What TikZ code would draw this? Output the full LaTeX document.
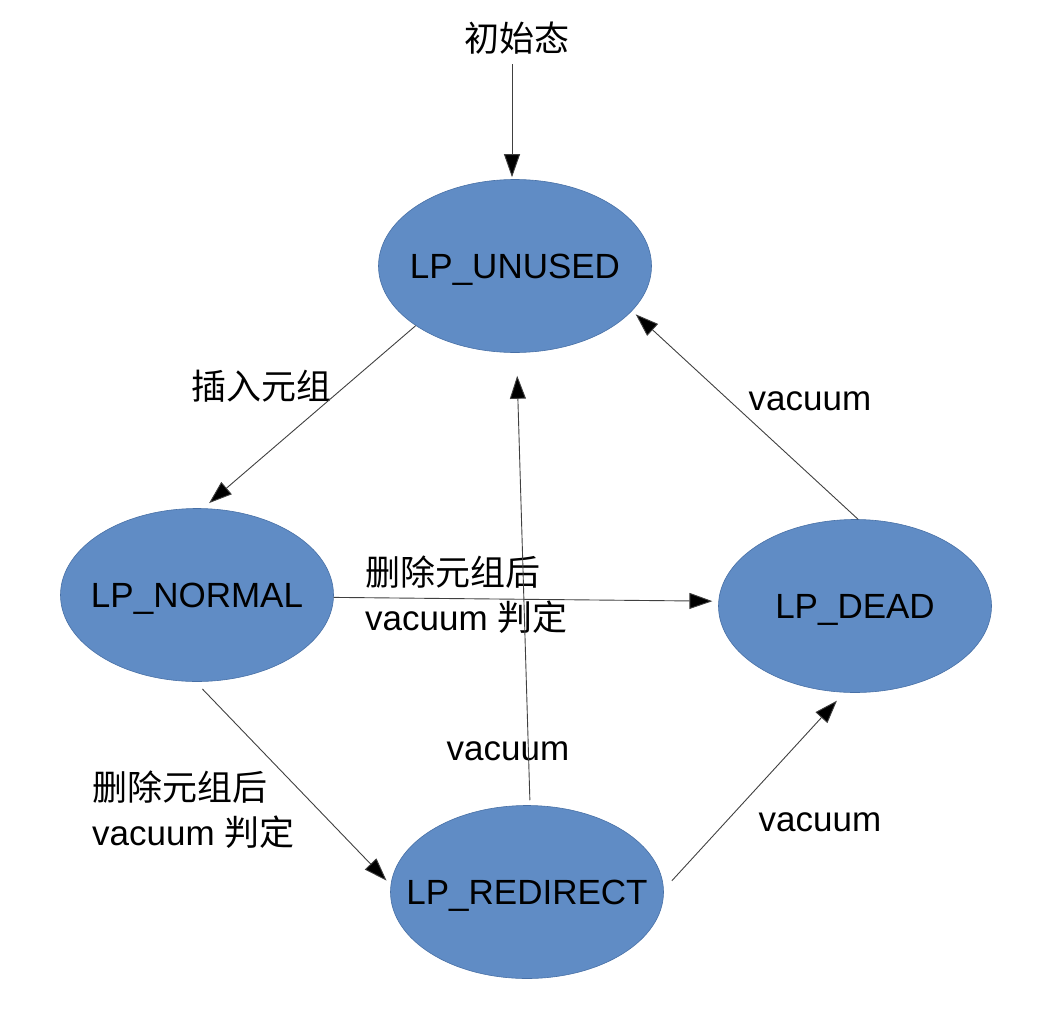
\documentclass[tikz,border=0pt]{standalone}
\usepackage{fontspec}
\setmainfont{Liberation Sans}
\newfontfamily\cjk{Noto Sans CJK SC}
\usetikzlibrary{shapes.geometric,arrows.meta}
\definecolor{statefill}{RGB}{96,140,197}
\definecolor{stateborder}{RGB}{72,112,166}
\newcommand{\zw}[1]{\makebox[0pt]{\raisebox{-4pt}[\height][\depth]{#1}}}
\begin{document}
\begin{tikzpicture}[x=1pt,y=-1pt,
  state/.style={ellipse, draw=stateborder, line width=0.6pt, fill=statefill,
    minimum width=273pt, minimum height=173pt, inner sep=0pt,
    font=\fontsize{35}{40}\selectfont},
  lbl/.style={inner sep=0pt, font=\fontsize{35}{45}\selectfont},
  edge/.style={draw=black!75, line width=0.9pt,
    -{Triangle[length=23pt,width=16pt,fill=black]}}
]
\useasboundingbox (0,0) rectangle (1041,1012);
\node[state] (unused) at (515,266) {\zw{LP\_UNUSED}};
\node[state] (normal) at (197,595) {\zw{LP\_NORMAL}};
\node[state] (dead) at (855,606) {\zw{LP\_DEAD}};
\node[state] (redirect) at (527,892) {\zw{LP\_REDIRECT}};
\node[lbl] (init) at (517,38) {\cjk 初始态};

\node[lbl] (l1) at (261,386) {\cjk 插入元组};
\node[lbl, anchor=west, align=left] (l2) at (365,595) {{\cjk 删除元组后}\\vacuum {\cjk 判定}};
\node[lbl] (l3) at (810,401) {vacuum};
\node[lbl] (l4) at (508,751) {vacuum};
\node[lbl] (l5) at (820,822) {vacuum};
\node[lbl, anchor=west, align=left] (l6) at (92,810) {{\cjk 删除元组后}\\vacuum {\cjk 判定}};

\draw[edge, shorten <=10pt, shorten >=2pt] ([xshift=-5pt]init.south) -- ([xshift=-3pt]unused.north);
\draw[edge, shorten >=8pt] (unused.211) -- (normal.86);
\draw[edge, shorten >=6pt] (normal.-1) -- (dead.178);
\draw[edge, shorten <=10pt, shorten >=6pt] (normal.269) -- (redirect.177);
\draw[edge, shorten <=5pt, shorten >=23pt] (redirect.88) -- (unused.271);
\draw[edge, shorten <=12pt, shorten >=11pt] (redirect.1) -- (dead.263);
\draw[edge, shorten >=5pt] (dead.88) -- (unused.-21);
\end{tikzpicture}
\end{document}
